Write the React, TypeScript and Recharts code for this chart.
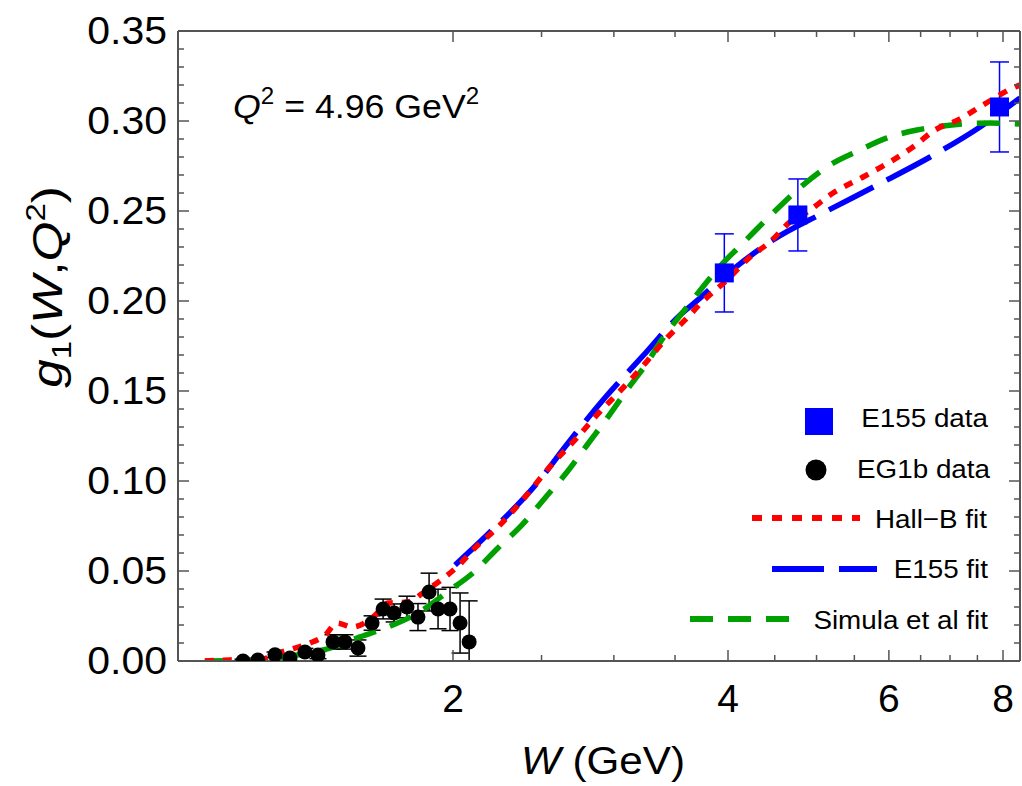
import React from 'react';
import { ComposedChart, Line, Scatter, XAxis, YAxis, ErrorBar, Customized } from 'recharts';

const FONT = '"Liberation Sans", Arial, Helvetica, sans-serif';
const FRAME = '#555555';

// ---- tick values ----
const xMajorTicks = [2, 4, 6, 8];
const xAllTicks = [2, 2.5, 3, 3.5, 4, 4.5, 5, 5.5, 6, 6.5, 7, 7.5, 8];
const yMajorTicks = [0, 0.05, 0.1, 0.15, 0.2, 0.25, 0.3, 0.35];
const yMinorTicks = [
  0.01, 0.02, 0.03, 0.04, 0.06, 0.07, 0.08, 0.09, 0.11, 0.12, 0.13, 0.14,
  0.16, 0.17, 0.18, 0.19, 0.21, 0.22, 0.23, 0.24, 0.26, 0.27, 0.28, 0.29,
  0.31, 0.32, 0.33, 0.34,
];

// ---- Hall-B fit (red dotted) ----
const hallW = [1.07, 1.14, 1.236, 1.287, 1.343, 1.395, 1.449, 1.493, 1.551, 1.635, 1.698, 1.786, 1.854, 1.921, 1.985, 2.046, 2.103, 2.235, 2.368, 2.574, 2.72, 2.875, 3.047, 3.22, 3.412, 3.616, 3.727, 3.99, 4.228, 4.447, 4.677, 4.881, 5.212, 5.622, 6.063, 6.376, 6.74, 7.142, 7.607, 8.246, 8.35];
const hallG = [0.0, 0.0006, 0.001, 0.0044, 0.0072, 0.01, 0.0144, 0.0211, 0.0189, 0.0244, 0.0322, 0.0328, 0.0378, 0.0433, 0.0489, 0.055, 0.0617, 0.0739, 0.0878, 0.11, 0.1228, 0.1367, 0.15, 0.1633, 0.1783, 0.1911, 0.1983, 0.2117, 0.2244, 0.2328, 0.2439, 0.2494, 0.26, 0.2689, 0.2783, 0.2856, 0.295, 0.3006, 0.3089, 0.3189, 0.32];

// ---- E155 fit (blue long dash) ----
const e155FitW = [2.01, 2.179, 2.478, 2.652, 2.919, 3.22, 3.545, 3.708, 3.92, 4.092, 4.48, 5.083, 5.825, 6.656, 7.55, 8.35];
const e155FitG = [0.0533, 0.07, 0.0994, 0.1189, 0.145, 0.1689, 0.1922, 0.2006, 0.2117, 0.2194, 0.2339, 0.2489, 0.2644, 0.28, 0.2967, 0.3128];

// ---- Simula et al fit (green dashed) ----
const simW = [1.07, 1.214, 1.277, 1.388, 1.467, 1.57, 1.698, 1.831, 1.985, 2.103, 2.24, 2.38, 2.522, 2.666, 2.804, 2.956, 3.101, 3.261, 3.395, 3.607, 3.95, 4.154, 4.48, 4.832, 5.172, 5.579, 5.972, 6.44, 7.035, 7.741, 8.35];
const simG = [0.0, 0.0006, 0.0017, 0.0044, 0.0072, 0.0128, 0.0189, 0.0267, 0.0394, 0.0489, 0.0628, 0.0756, 0.0906, 0.105, 0.12, 0.1356, 0.1506, 0.1656, 0.1794, 0.1967, 0.2211, 0.2322, 0.2489, 0.2644, 0.2756, 0.2839, 0.2906, 0.295, 0.2978, 0.2989, 0.2983];

// ---- EG1b data (black circles) ----
const eg1bW = [1.178, 1.223, 1.277, 1.326, 1.377, 1.423, 1.478, 1.523, 1.574, 1.631, 1.677, 1.724, 1.781, 1.831, 1.883, 1.926, 1.985, 2.036, 2.083];
const eg1bG = [0.0, 0.0005, 0.0035, 0.0017, 0.005, 0.0033, 0.0106, 0.0106, 0.0072, 0.0211, 0.0289, 0.0267, 0.03, 0.0244, 0.0383, 0.0289, 0.0289, 0.0211, 0.0106];
const eg1bErr = [0.001, 0.001, 0.0015, 0.0015, 0.002, 0.002, 0.004, 0.004, 0.0045, 0.004, 0.0055, 0.005, 0.006, 0.0075, 0.0105, 0.011, 0.012, 0.0167, 0.0228];

// ---- E155 data (blue squares) ----
const e155W = [3.963, 4.77, 7.93];
const e155G = [0.2156, 0.2478, 0.3078];
const e155Err = [0.0217, 0.02, 0.025];

const toLine = (ws: number[], gs: number[]) => ws.map((w, i) => ({ W: w, g: gs[i] }));
// error bars are cut at the bottom of the frame (g = 0), as in the reference
const toPts = (ws: number[], gs: number[], es: number[]) =>
  ws.map((w, i) => ({ W: w, g: gs[i], err: [Math.min(es[i], gs[i]), es[i]] }));

const hallData = toLine(hallW, hallG);
const e155FitData = toLine(e155FitW, e155FitG);
const simData = toLine(simW, simG);
const eg1bData = toPts(eg1bW, eg1bG, eg1bErr);
const e155Data = toPts(e155W, e155G, e155Err);

const allYTicks = [...yMajorTicks, ...yMinorTicks].sort((a, b) => a - b);

const isMajorX = (v: number) => xMajorTicks.indexOf(v) >= 0;
const isMajorY = (v: number) => yMajorTicks.some((m) => Math.abs(m - v) < 1e-9);

const BottomTick = (p: any) => {
  const v = p.payload.value;
  const major = isMajorX(v);
  return (
    <g>
      <line x1={p.x} x2={p.x} y1={p.y} y2={p.y - (major ? 11 : 6)} stroke={FRAME} strokeWidth={1.5} />
      {major && (
        <text x={p.x} y={p.y + 51} textAnchor="middle" fontSize={39} fontFamily={FONT} fill="#000">
          {String(v)}
        </text>
      )}
    </g>
  );
};

const TopTick = (p: any) => {
  const v = p.payload.value;
  const major = isMajorX(v);
  return <line x1={p.x} x2={p.x} y1={p.y} y2={p.y + (major ? 11 : 6)} stroke={FRAME} strokeWidth={1.5} />;
};

const LeftTick = (p: any) => {
  const v = p.payload.value;
  const major = isMajorY(v);
  return (
    <g>
      <line x1={p.x} x2={p.x + (major ? 11 : 6)} y1={p.y} y2={p.y} stroke={FRAME} strokeWidth={1.5} />
      {major && (
        <g transform={`translate(${p.x - 11},${p.y + 13}) scale(1.05,1)`}>
          <text x={0} y={0} textAnchor="end" fontSize={39} fontFamily={FONT} fill="#000">
            {v.toFixed(2)}
          </text>
        </g>
      )}
    </g>
  );
};

const RightTick = (p: any) => {
  const v = p.payload.value;
  const major = isMajorY(v);
  return <line x1={p.x} x2={p.x - (major ? 11 : 6)} y1={p.y} y2={p.y} stroke={FRAME} strokeWidth={1.5} />;
};

const LegendText = ({ x, y, children }: any) => (
  <g transform={`translate(${x},${y}) scale(1.07,1)`}>
    <text x={0} y={0} textAnchor="end" fontSize={26} fontFamily={FONT} fill="#000">{children}</text>
  </g>
);

const Decorations = () => (
  <g>
    {/* annotation */}
    <g transform="translate(233,118) scale(1.05,1)">
      <text x={0} y={0} fontSize={34} fontFamily={FONT} fill="#000">
        <tspan fontStyle="italic">Q</tspan>
        <tspan fontSize={23} dy={-14}>2</tspan>
        <tspan dy={14}> = 4.96 GeV</tspan>
        <tspan fontSize={23} dy={-14}>2</tspan>
      </text>
    </g>
    {/* y axis label */}
    <g transform="translate(62,287) rotate(-90) scale(1.22,1)">
      <text x={0} y={0} textAnchor="middle" fontSize={42} fontFamily={FONT} fill="#000">
        <tspan fontStyle="italic">g</tspan>
        <tspan fontSize={27} dy={9}>1</tspan>
        <tspan dy={-9}>(</tspan>
        <tspan fontStyle="italic">W</tspan>
        <tspan>,</tspan>
        <tspan fontStyle="italic">Q</tspan>
        <tspan fontSize={27} dy={-17}>2</tspan>
        <tspan dy={17}>)</tspan>
      </text>
    </g>
    {/* x axis label */}
    <g transform="translate(603,774) scale(1.11,1)">
      <text x={0} y={0} textAnchor="middle" fontSize={38} fontFamily={FONT} fill="#000">
        <tspan fontStyle="italic">W</tspan>
        <tspan> (GeV)</tspan>
      </text>
    </g>
    {/* legend */}
    <rect x={805} y={408} width={28} height={27} fill="#0000ff" />
    <LegendText x={988} y={427}>E155 data</LegendText>
    <circle cx={816} cy={470} r={10.5} fill="#000" />
    <LegendText x={990} y={478}>EG1b data</LegendText>
    <line x1={752} x2={860} y1={518} y2={518} stroke="#ff0000" strokeWidth={6} strokeDasharray="10 10" />
    <LegendText x={987} y={528}>Hall−B fit</LegendText>
    <line x1={772} x2={877} y1={569} y2={569} stroke="#0000ff" strokeWidth={6} strokeDasharray="52 15" />
    <LegendText x={988} y={578}>E155 fit</LegendText>
    <line x1={690} x2={790} y1={619} y2={619} stroke="#00a000" strokeWidth={6} strokeDasharray="23 15" />
    <LegendText x={988} y={629}>Simula et al fit</LegendText>
  </g>
);

export default function App() {
  return (
    <div style={{ position: 'absolute', left: 0, top: 0, width: 1022, height: 786, background: '#fff' }}>
      <ComposedChart width={1022} height={786} margin={{ top: 0, right: 0, bottom: 0, left: 0 }}>
        <XAxis
          xAxisId="b"
          orientation="bottom"
          dataKey="W"
          type="number"
          scale="log"
          domain={[1, 8.35]}
          allowDataOverflow
          ticks={xAllTicks}
          interval={0}
          tickSize={0}
          tickMargin={0}
          height={125}
          tick={(p: any) => <BottomTick {...p} />}
          axisLine={{ stroke: FRAME, strokeWidth: 2 }}
          tickLine={false}
        />
        <XAxis
          xAxisId="t"
          orientation="top"
          dataKey="W"
          type="number"
          scale="log"
          domain={[1, 8.35]}
          allowDataOverflow
          ticks={xAllTicks}
          interval={0}
          tickSize={0}
          tickMargin={0}
          height={31}
          tick={(p: any) => <TopTick {...p} />}
          axisLine={{ stroke: FRAME, strokeWidth: 2 }}
          tickLine={false}
        />
        <YAxis
          yAxisId="l"
          orientation="left"
          type="number"
          domain={[0, 0.35]}
          allowDataOverflow
          ticks={allYTicks}
          interval={0}
          tickSize={0}
          tickMargin={0}
          width={178}
          tick={(p: any) => <LeftTick {...p} />}
          axisLine={{ stroke: FRAME, strokeWidth: 2 }}
          tickLine={false}
        />
        <YAxis
          yAxisId="r"
          orientation="right"
          type="number"
          domain={[0, 0.35]}
          allowDataOverflow
          ticks={allYTicks}
          interval={0}
          tickSize={0}
          tickMargin={0}
          width={2}
          tick={(p: any) => <RightTick {...p} />}
          axisLine={{ stroke: FRAME, strokeWidth: 2 }}
          tickLine={false}
        />
        <Scatter
          xAxisId="b"
          yAxisId="l"
          data={eg1bData}
          dataKey="g"
          isAnimationActive={false}
          shape={(p: any) => <circle cx={p.cx} cy={p.cy} r={7.5} fill="#000" />}
        >
          <ErrorBar dataKey="err" direction="y" width={8.5} stroke="#000" strokeWidth={1.5} isAnimationActive={false} />
        </Scatter>
        <Scatter
          xAxisId="b"
          yAxisId="l"
          data={e155Data}
          dataKey="g"
          isAnimationActive={false}
          shape={(p: any) => <rect x={p.cx - 9.5} y={p.cy - 9.5} width={19} height={19} fill="#0000ff" />}
        >
          <ErrorBar dataKey="err" direction="y" width={9.5} stroke="#0000ff" strokeWidth={1.5} isAnimationActive={false} />
        </Scatter>
        <Line xAxisId="b" yAxisId="l" data={e155FitData} dataKey="g" type="monotone" stroke="#0000ff" strokeWidth={5.5} strokeDasharray="50 15" dot={false} activeDot={false} isAnimationActive={false} />
        <Line xAxisId="b" yAxisId="l" data={simData} dataKey="g" type="monotone" stroke="#00a000" strokeWidth={5.5} strokeDasharray="23 15" dot={false} activeDot={false} isAnimationActive={false} />
        <Line xAxisId="b" yAxisId="l" data={hallData} dataKey="g" type="monotone" stroke="#ff0000" strokeWidth={5.5} strokeDasharray="9 9" dot={false} activeDot={false} isAnimationActive={false} />
        <Customized component={<Decorations />} />
      </ComposedChart>
    </div>
  );
}
